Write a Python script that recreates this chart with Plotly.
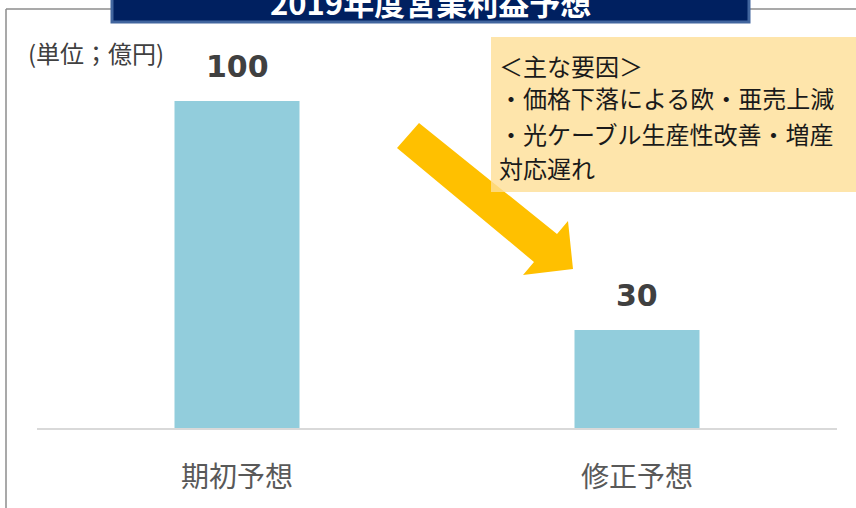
import plotly.graph_objects as go

# ---- data ----
categories = ["期初予想", "修正予想"]
values = [100, 30]
bar_labels = ["100", "30"]
unit_label = "(単位；億円)"
title_text = "2019年度営業利益予想"
reason_lines = ["＜主な要因＞", "・価格下落による欧・亜売上減", "・光ケーブル生産性改善・増産", "対応遅れ"]

W, H = 856, 508
ML, MR, MT, MB = 37, 19, 30, 80
PW, PH = W - ML - MR, H - MT - MB
YMAX = PH / 3.27

def px(x):
    return (x - ML) / PW

def py(y):
    return (H - MB - y) / PH

JP = "Noto Sans CJK JP"

fig = go.Figure()
fig.add_trace(go.Bar(
    x=categories, y=values, width=0.3125,
    marker=dict(color="#92CDDC", line=dict(width=0)),
    hoverinfo="skip",
))

shapes = []
# outer frame (left and top edges)
shapes.append(dict(type="line", xref="paper", yref="paper",
                   x0=px(6), x1=px(6), y0=py(9), y1=py(530),
                   line=dict(color="#8c8c8c", width=1.5), layer="above"))
shapes.append(dict(type="line", xref="paper", yref="paper",
                   x0=px(6), x1=px(870), y0=py(9), y1=py(9),
                   line=dict(color="#8c8c8c", width=1.5), layer="above"))
# title box
shapes.append(dict(type="rect", xref="paper", yref="paper",
                   x0=px(112), x1=px(749), y0=py(-10), y1=py(22),
                   fillcolor="#002060", line=dict(color="#41659E", width=3), layer="above"))
# arrow
pts = [(419, 123), (557, 234), (568, 221), (573, 269), (523, 275), (534, 262), (397, 148)]
path = "M " + " L ".join(f"{px(a):.5f},{py(b):.5f}" for a, b in pts) + " Z"
shapes.append(dict(type="path", xref="paper", yref="paper", path=path,
                   fillcolor="#FFC000", line=dict(width=0), layer="above"))
# reasons box
shapes.append(dict(type="rect", xref="paper", yref="paper",
                   x0=px(491), x1=px(870), y0=py(37), y1=py(192),
                   fillcolor="rgba(254,222,150,0.8)", line=dict(width=0), layer="above"))

annotations = []
annotations.append(dict(xref="paper", yref="paper", x=px(430), y=py(2),
                        text=f"<b>{title_text}</b>", showarrow=False,
                        xanchor="center", yanchor="middle",
                        font=dict(family=JP, size=31, color="white")))
annotations.append(dict(xref="paper", yref="paper", x=px(26), y=py(53),
                        text=unit_label, showarrow=False,
                        xanchor="left", yanchor="middle",
                        font=dict(family=JP, size=24, color="#404040")))
line_y = [66, 98, 133, 167]
for t, yy in zip(reason_lines, line_y):
    annotations.append(dict(xref="paper", yref="paper", x=px(498), y=py(yy),
                            text=t, showarrow=False, xanchor="left", yanchor="middle",
                            borderpad=0,
                            font=dict(family=JP, size=24, color="#1a1a1a")))
for c, v, t in zip(categories, values, bar_labels):
    annotations.append(dict(x=c, y=v, xref="x", yref="y", text=f"<b>{t}</b>",
                            showarrow=False, xanchor="center", yanchor="bottom",
                            yshift=15,
                            font=dict(family="DejaVu Sans", size=30, color="#404040")))

fig.update_layout(
    width=W, height=H, autosize=False,
    margin=dict(l=ML, r=MR, t=MT, b=MB, pad=0, autoexpand=False),
    paper_bgcolor="white", plot_bgcolor="white",
    showlegend=False,
    shapes=shapes, annotations=annotations,
    xaxis=dict(type="category", range=[-0.5, 1.5], showline=True,
               linecolor="#d9d9d9", linewidth=2, ticks="", showgrid=False,
               zeroline=False, automargin=False, ticklabelstandoff=23,
               tickfont=dict(family=JP, size=28, color="#595959")),
    yaxis=dict(range=[0, YMAX], visible=False, showgrid=False, zeroline=False,
               automargin=False),
)

fig.write_html("out.html", config={"displayModeBar": False},
               post_script="document.body.style.margin='0';document.body.style.overflow='hidden';")
